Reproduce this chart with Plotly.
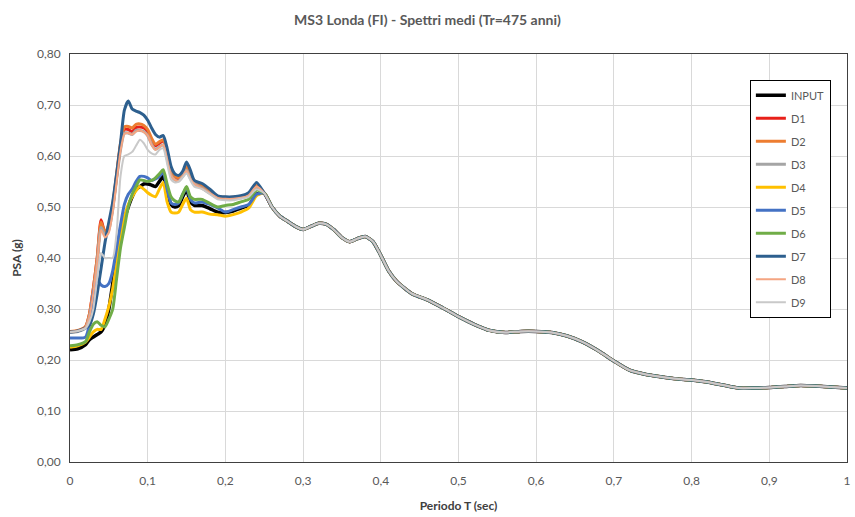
import plotly.graph_objects as go

# Periods (sec) for the early, differentiated part of the spectra
T_HEAD = [0, 0.01, 0.02, 0.025, 0.03, 0.035, 0.04, 0.045, 0.05, 0.055, 0.06, 0.065,
          0.07, 0.075, 0.08, 0.085, 0.09, 0.095, 0.10, 0.105, 0.11, 0.115, 0.12, 0.125,
          0.13, 0.135, 0.14, 0.145, 0.15, 0.155, 0.16, 0.17, 0.18, 0.19, 0.20, 0.21,
          0.22, 0.23, 0.24]

# Periods (sec) for the common tail (all spectra overlap)
T_TAIL = [0.25, 0.26, 0.27, 0.28, 0.29, 0.30, 0.31, 0.32, 0.33, 0.34, 0.35, 0.36, 0.37,
          0.38, 0.39, 0.40, 0.41, 0.42, 0.44, 0.46, 0.48, 0.50, 0.52, 0.54, 0.56, 0.58,
          0.60, 0.62, 0.64, 0.66, 0.68, 0.70, 0.72, 0.74, 0.76, 0.78, 0.80, 0.82, 0.84,
          0.86, 0.88, 0.90, 0.92, 0.94, 0.96, 0.98, 1.00]
PSA_TAIL = [0.527, 0.50, 0.482, 0.472, 0.462, 0.456, 0.462, 0.468, 0.466, 0.455, 0.44,
            0.432, 0.438, 0.442, 0.432, 0.405, 0.375, 0.355, 0.33, 0.318, 0.302, 0.285,
            0.27, 0.258, 0.254, 0.256, 0.256, 0.254, 0.247, 0.235, 0.218, 0.198, 0.18,
            0.172, 0.167, 0.163, 0.161, 0.157, 0.151, 0.145, 0.145, 0.146, 0.148, 0.150,
            0.149, 0.147, 0.145]

INPUT = [0.22, 0.222, 0.23, 0.24, 0.245, 0.25, 0.255, 0.27, 0.30, 0.35, 0.40, 0.44, 0.475,
         0.50, 0.52, 0.535, 0.54, 0.545, 0.545, 0.543, 0.54, 0.55, 0.56, 0.53, 0.505, 0.50,
         0.503, 0.52, 0.533, 0.51, 0.503, 0.503, 0.497, 0.49, 0.489, 0.492, 0.498, 0.503, 0.525]
D1 = [0.255, 0.257, 0.265, 0.29, 0.34, 0.40, 0.475, 0.45, 0.46, 0.50, 0.56, 0.62, 0.652,
      0.652, 0.648, 0.656, 0.657, 0.655, 0.648, 0.63, 0.62, 0.625, 0.63, 0.60, 0.567, 0.557,
      0.555, 0.565, 0.577, 0.56, 0.55, 0.54, 0.53, 0.52, 0.518, 0.518, 0.52, 0.524, 0.54]
D2 = [0.256, 0.258, 0.266, 0.29, 0.34, 0.40, 0.47, 0.45, 0.465, 0.505, 0.565, 0.625, 0.657,
      0.658, 0.655, 0.662, 0.663, 0.66, 0.652, 0.635, 0.623, 0.628, 0.632, 0.603, 0.57, 0.56,
      0.558, 0.568, 0.58, 0.562, 0.552, 0.542, 0.532, 0.521, 0.519, 0.519, 0.521, 0.526, 0.542]
D3 = [0.254, 0.256, 0.263, 0.285, 0.33, 0.39, 0.46, 0.445, 0.455, 0.495, 0.555, 0.612, 0.645,
      0.645, 0.642, 0.65, 0.65, 0.648, 0.64, 0.623, 0.613, 0.618, 0.622, 0.595, 0.562, 0.553,
      0.551, 0.56, 0.572, 0.556, 0.546, 0.537, 0.527, 0.518, 0.516, 0.516, 0.518, 0.522, 0.538]
D4 = [0.225, 0.228, 0.235, 0.245, 0.255, 0.26, 0.26, 0.28, 0.305, 0.34, 0.39, 0.44, 0.48,
      0.505, 0.52, 0.532, 0.54, 0.535, 0.528, 0.523, 0.52, 0.535, 0.548, 0.51, 0.49, 0.488,
      0.49, 0.505, 0.517, 0.495, 0.49, 0.49, 0.486, 0.485, 0.482, 0.485, 0.49, 0.498, 0.522]
D5 = [0.243, 0.243, 0.245, 0.27, 0.33, 0.357, 0.347, 0.344, 0.35, 0.375, 0.42, 0.465, 0.505,
      0.525, 0.535, 0.55, 0.56, 0.56, 0.557, 0.552, 0.555, 0.56, 0.568, 0.535, 0.508, 0.505,
      0.508, 0.525, 0.537, 0.515, 0.508, 0.51, 0.505, 0.498, 0.49, 0.495, 0.50, 0.505, 0.525]
D6 = [0.228, 0.23, 0.236, 0.255, 0.27, 0.275, 0.268, 0.265, 0.28, 0.30, 0.36, 0.42, 0.46,
      0.50, 0.525, 0.54, 0.553, 0.552, 0.55, 0.552, 0.557, 0.565, 0.573, 0.545, 0.52, 0.512,
      0.51, 0.525, 0.54, 0.52, 0.515, 0.515, 0.507, 0.50, 0.503, 0.505, 0.51, 0.515, 0.533]
D7 = [0.255, 0.257, 0.263, 0.268, 0.29, 0.33, 0.38, 0.43, 0.47, 0.51, 0.565, 0.625, 0.69,
      0.708, 0.692, 0.688, 0.685, 0.68, 0.67, 0.655, 0.642, 0.637, 0.64, 0.615, 0.58, 0.565,
      0.562, 0.57, 0.588, 0.572, 0.552, 0.546, 0.535, 0.522, 0.52, 0.52, 0.522, 0.528, 0.548]
D8 = [0.255, 0.257, 0.264, 0.285, 0.33, 0.39, 0.455, 0.44, 0.45, 0.49, 0.55, 0.61, 0.643,
      0.645, 0.642, 0.648, 0.65, 0.647, 0.64, 0.622, 0.612, 0.617, 0.622, 0.594, 0.562, 0.553,
      0.551, 0.56, 0.571, 0.555, 0.545, 0.536, 0.527, 0.518, 0.516, 0.516, 0.518, 0.523, 0.54]
D9 = [0.255, 0.257, 0.262, 0.275, 0.30, 0.36, 0.41, 0.40, 0.40, 0.40, 0.45, 0.56, 0.60,
      0.603, 0.608, 0.62, 0.632, 0.625, 0.612, 0.605, 0.603, 0.612, 0.615, 0.585, 0.554,
      0.548, 0.55, 0.558, 0.566, 0.552, 0.54, 0.535, 0.525, 0.515, 0.513, 0.513, 0.516,
      0.52, 0.535]

SERIES = ["INPUT", "D1", "D2", "D3", "D4", "D5", "D6", "D7", "D8", "D9"]
HEADS = [INPUT, D1, D2, D3, D4, D5, D6, D7, D8, D9]
COLORS = ["#000000", "#e8201a", "#ed7d31", "#a5a5a5", "#ffc000", "#4472c4", "#70ad47",
          "#2d5f8e", "#f4a582", "#c9c9c9"]
WIDTHS = [3.5, 3, 3, 3, 3, 3, 3, 3, 2, 2]

fig = go.Figure()
for name, head, col, w in zip(SERIES, HEADS, COLORS, WIDTHS):
    fig.add_trace(go.Scatter(
        x=T_HEAD + T_TAIL, y=head + PSA_TAIL, mode="lines", name=name,
        legendgroup=name,
        line=dict(color=col, width=w, shape="spline", smoothing=0.6),
    ))

fig.update_layout(
    width=855, height=517,
    margin=dict(l=70, r=4, t=54, b=55),
    paper_bgcolor="white", plot_bgcolor="white",
    separators=",.",
    font=dict(family="Lato, Open Sans, sans-serif", color="#595959", size=12),
    title=dict(text="<b>MS3 Londa (FI) - Spettri medi (Tr=475 anni)</b>",
               x=0.5, xanchor="center", y=0.962, yanchor="middle",
               font=dict(size=14, color="#595959")),
    legend=dict(x=0.875, y=0.937, xanchor="left", yanchor="top",
                bgcolor="white", bordercolor="#000000", borderwidth=1,
                font=dict(size=11, color="#595959"), tracegroupgap=4,
                traceorder="grouped", itemwidth=30),
    xaxis=dict(range=[0, 1], dtick=0.1, tick0=0, showgrid=True, gridcolor="#d9d9d9",
               showline=True, linecolor="#404040", linewidth=1, mirror=True,
               zeroline=False, ticks="", ticklabelstandoff=8,
               tickfont=dict(size=12, color="#595959"),
               title=dict(text="<b>Periodo T (sec)</b>", font=dict(size=12, color="#404040"),
                          standoff=14)),
    yaxis=dict(range=[0, 0.8], dtick=0.1, tick0=0, tickformat=".2f", showgrid=True,
               gridcolor="#d9d9d9", showline=True, linecolor="#404040", linewidth=1,
               mirror=True, zeroline=False, ticks="", ticklabelstandoff=6,
               tickfont=dict(size=12, color="#595959"),
               title=dict(text="<b>PSA (g)</b>", font=dict(size=12, color="#404040"),
                          standoff=12)),
)

fig.write_html("out.html")
